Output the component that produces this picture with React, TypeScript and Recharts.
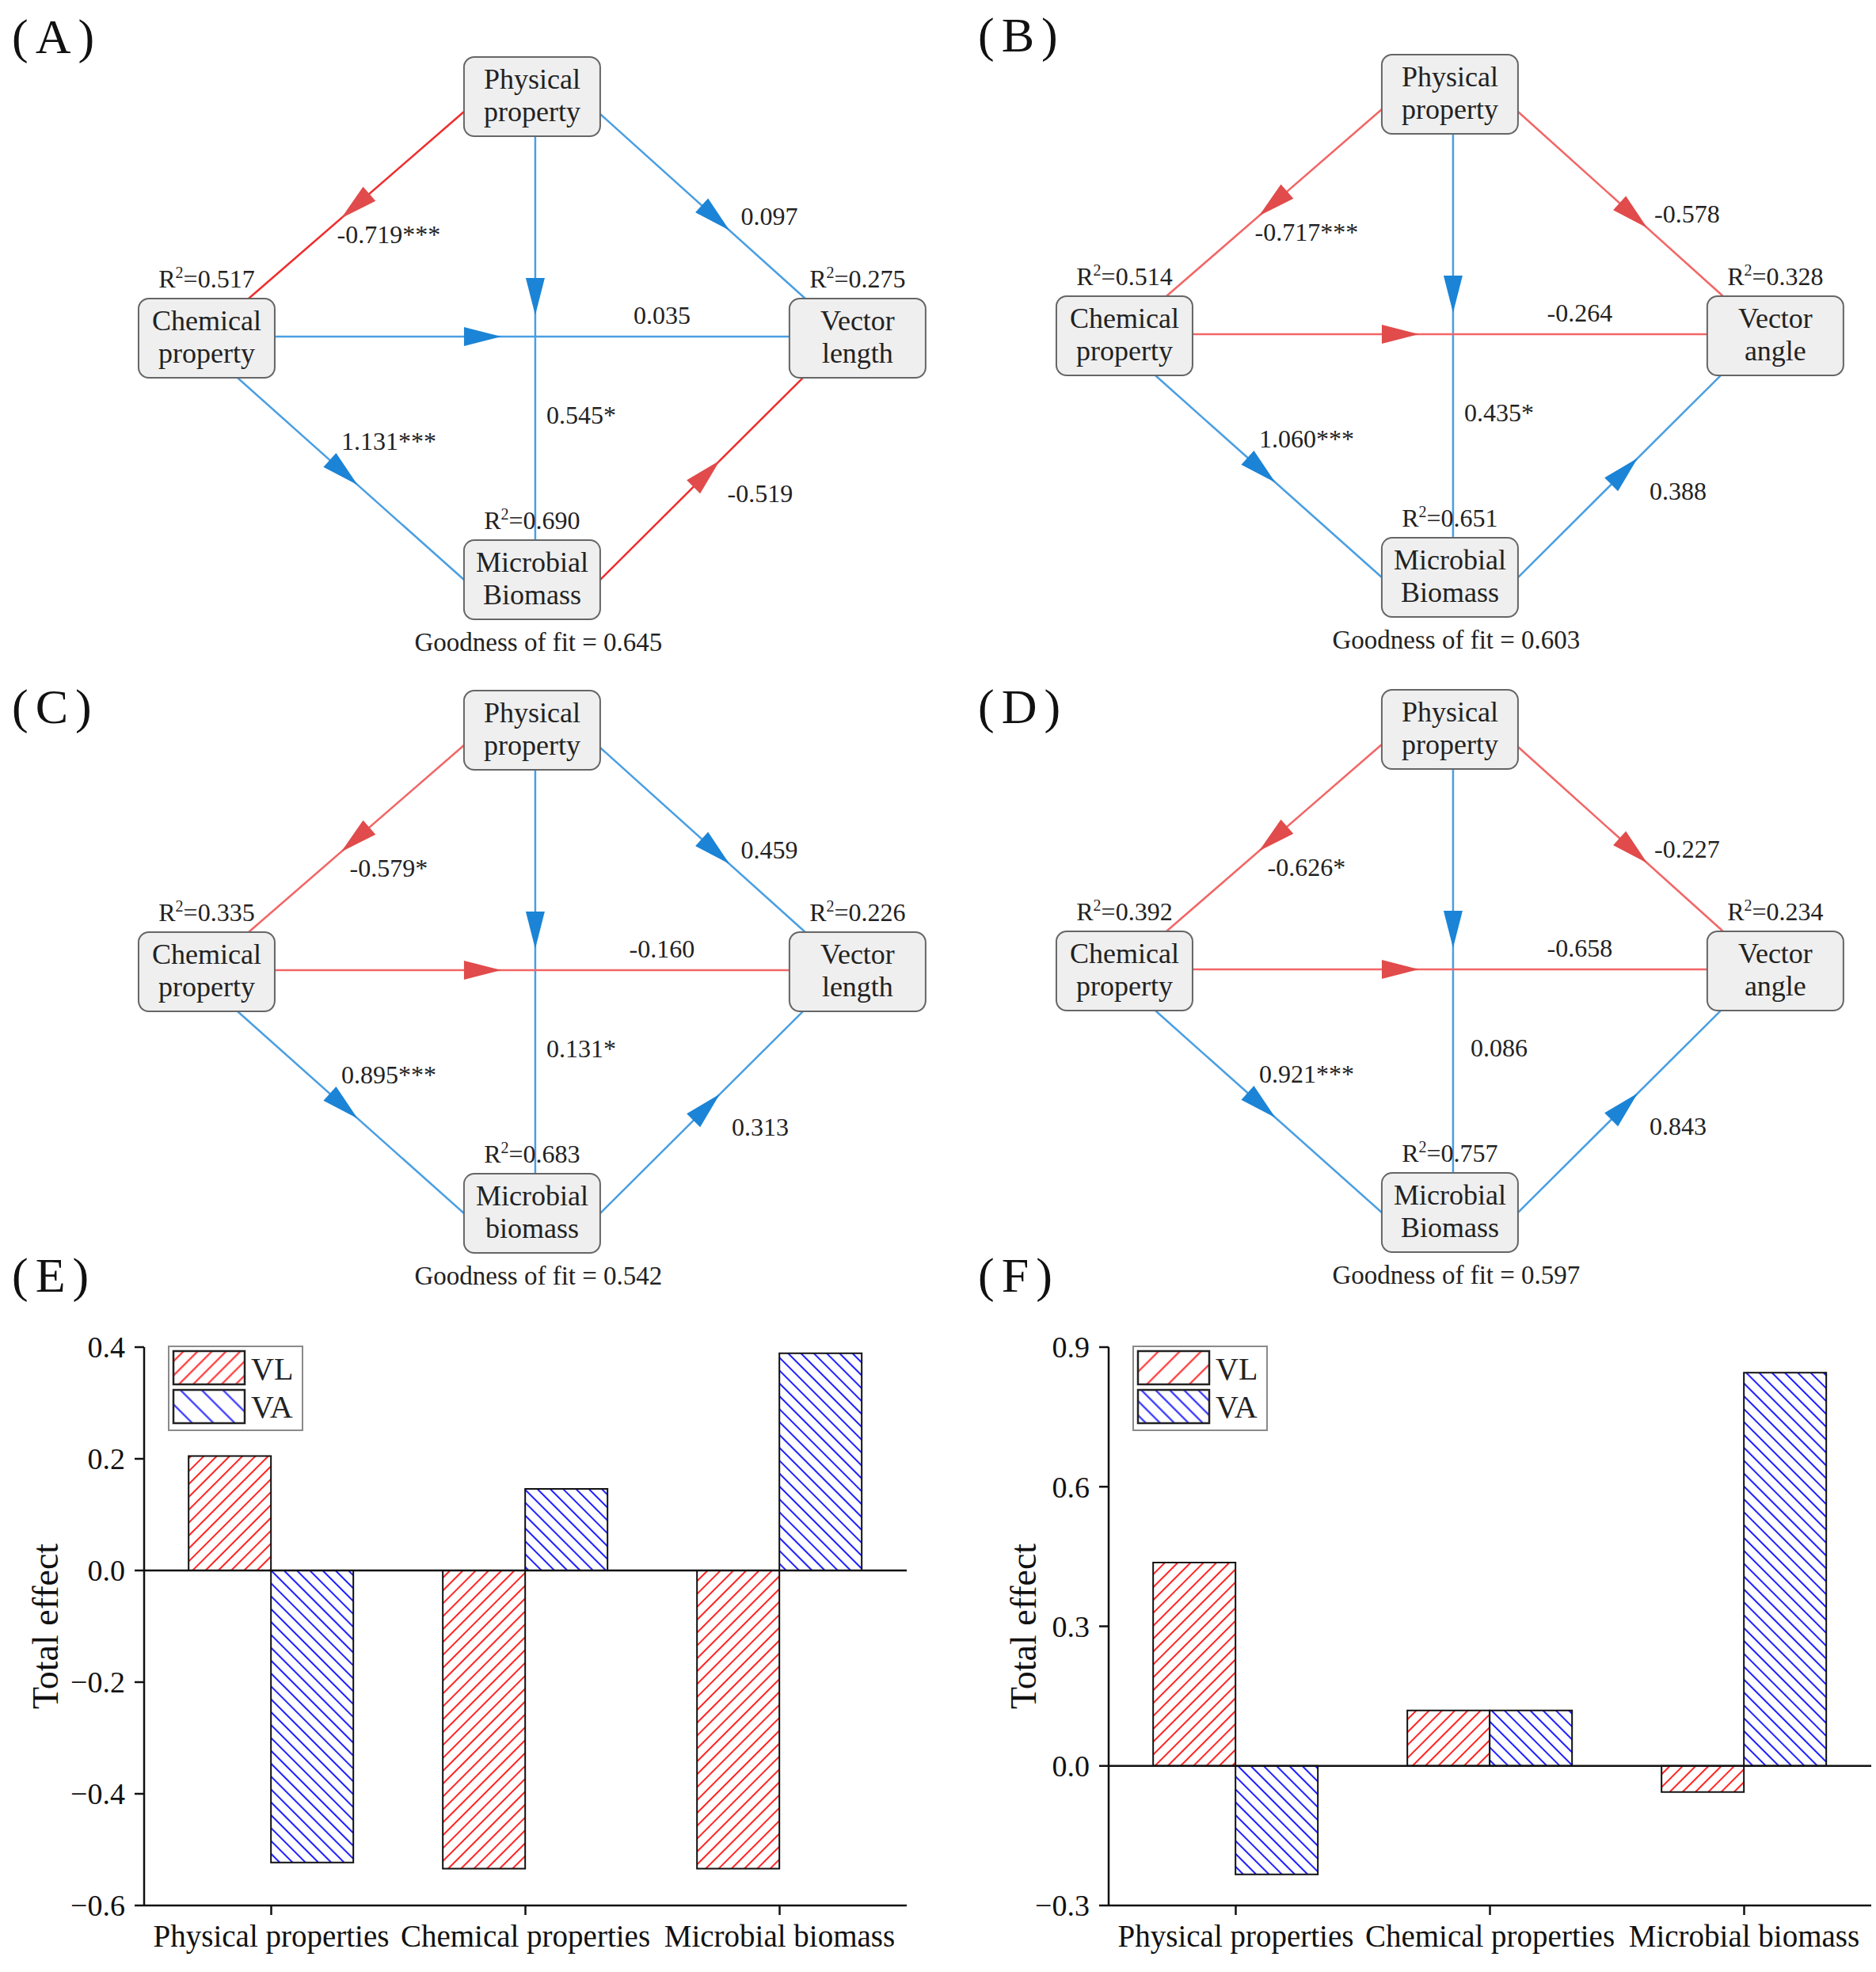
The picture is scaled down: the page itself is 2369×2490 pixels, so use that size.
import React from "react";
import {
  ScatterChart,
  Scatter,
  XAxis,
  YAxis,
  ReferenceLine,
  BarChart,
  Bar,
  Legend,
  Label,
} from "recharts";

const SERIF = '"Liberation Serif", "Times New Roman", serif';

// edges, always in this order
const EDGES = [
  ["phys", "chem"],
  ["phys", "vec"],
  ["phys", "micro"],
  ["chem", "vec"],
  ["chem", "micro"],
  ["micro", "vec"],
];

// (A) vector length
const A_COEF = [-0.719, 0.097, 0.545, 0.035, 1.131, -0.519];
const A_SIG = ["***", "", "*", "", "***", ""];
const A_R2 = [0.517, 0.275, 0.69]; // chem, vec, micro
const A_GOF = 0.645;

// (B) vector angle
const B_COEF = [-0.717, -0.578, 0.435, -0.264, 1.06, 0.388];
const B_SIG = ["***", "", "*", "", "***", ""];
const B_R2 = [0.514, 0.328, 0.651];
const B_GOF = 0.603;

// (C) vector length
const C_COEF = [-0.579, 0.459, 0.131, -0.16, 0.895, 0.313];
const C_SIG = ["*", "", "*", "", "***", ""];
const C_R2 = [0.335, 0.226, 0.683];
const C_GOF = 0.542;

// (D) vector angle
const D_COEF = [-0.626, -0.227, 0.086, -0.658, 0.921, 0.843];
const D_SIG = ["*", "", "", "", "***", ""];
const D_R2 = [0.392, 0.234, 0.757];
const D_GOF = 0.597;

// total effects (E, F)
const EFFECT_CATS = ["Physical properties", "Chemical properties", "Microbial biomass"];
const E_VL = [0.205, -0.534, -0.534];
const E_VA = [-0.523, 0.146, 0.389];
const F_VL = [0.437, 0.119, -0.056];
const F_VA = [-0.233, 0.119, 0.845];
const E_TICKS = [-0.6, -0.4, -0.2, 0, 0.2, 0.4];
const F_TICKS = [-0.3, 0, 0.3, 0.6, 0.9];

// diamond layout of the nodes
const GRID: Record<string, { x: number; y: number }> = {
  phys: { x: 0, y: 1 },
  chem: { x: -1, y: 0 },
  vec: { x: 1, y: 0 },
  micro: { x: 0, y: -1 },
};

// pixel offsets from node centres, arrow tip fraction, label offset from midpoint
const EDGE_GEOM = [
  { from: [-86, 19], to: [53, -50], tip: 0.57, lab: [41, 37] },
  { from: [86, 22], to: [-66, -50], tip: 0.63, lab: [84, 12] },
  { from: [4, 50], to: [4, -50], tip: 0.443, lab: [58, 97] },
  { from: [86, -2], to: [-86, -2], tip: 0.44, lab: [164, -27] },
  { from: [39, 50], to: [-86, 0], tip: 0.53, lab: [48, -48] },
  { from: [86, 0], to: [-69, 50], tip: 0.59, lab: [74, 18] },
];

const BLUE_LINE = "#4a9fe2";
const BLUE_HEAD = "#1b84d6";
const RED_HEAD = "#e14b4b";

const fmt = (v: number) => v.toFixed(3);

function edgeShape(i: number, coef: number, sig: string, redLine: string) {
  return (p: any) => {
    const g = EDGE_GEOM[i];
    const x1 = p.x1 + g.from[0];
    const y1 = p.y1 + g.from[1];
    const x2 = p.x2 + g.to[0];
    const y2 = p.y2 + g.to[1];
    const len = Math.hypot(x2 - x1, y2 - y1);
    const ux = (x2 - x1) / len;
    const uy = (y2 - y1) / len;
    const tx = x1 + (x2 - x1) * g.tip;
    const ty = y1 + (y2 - y1) * g.tip;
    const bx = tx - ux * 47;
    const by = ty - uy * 47;
    const nx = -uy * 12;
    const ny = ux * 12;
    const neg = coef < 0;
    const mx = (x1 + x2) / 2 + g.lab[0];
    const my = (y1 + y2) / 2 + g.lab[1];
    return (
      <g>
        <line x1={x1} y1={y1} x2={x2} y2={y2} stroke={neg ? redLine : BLUE_LINE} strokeWidth={2.5} />
        <polygon
          points={`${tx},${ty} ${bx + nx},${by + ny} ${bx - nx},${by - ny}`}
          fill={neg ? RED_HEAD : BLUE_HEAD}
        />
        <text x={mx} y={my} dy="0.35em" textAnchor="middle" fontSize={32} fontFamily={SERIF} fill="#222">
          {fmt(coef) + sig}
        </text>
      </g>
    );
  };
}

const nodeShape = (p: any) => {
  const { cx, cy, payload } = p;
  return (
    <g>
      <rect x={cx - 86} y={cy - 50} width={172} height={100} rx={13} fill="#efefef" stroke="#666" strokeWidth={2} />
      <text x={cx} y={cy - 10} textAnchor="middle" fontSize={36} fontFamily={SERIF} fill="#222">
        {payload.lines[0]}
      </text>
      <text x={cx} y={cy + 31} textAnchor="middle" fontSize={36} fontFamily={SERIF} fill="#222">
        {payload.lines[1]}
      </text>
      {payload.r2 != null && (
        <text x={cx} y={cy - 64} textAnchor="middle" fontSize={32} fontFamily={SERIF} fill="#222">
          R
          <tspan dy={-12} fontSize={20}>2</tspan>
          <tspan dy={12}>{"=" + fmt(payload.r2)}</tspan>
        </text>
      )}
      {payload.gof != null && (
        <text x={cx + 8} y={cy + 90} textAnchor="middle" fontSize={33} fontFamily={SERIF} fill="#222">
          {"Goodness of fit = " + fmt(payload.gof)}
        </text>
      )}
    </g>
  );
};

type PathProps = {
  coef: number[];
  sig: string[];
  r2: number[];
  gof: number;
  vecName: string[];
  microName: string[];
  redLine: string;
  left: number;
  top: number;
};

function PathDiagram({ coef, sig, r2, gof, vecName, microName, redLine, left, top }: PathProps) {
  const nodes = [
    { ...GRID.phys, lines: ["Physical", "property"], r2: null, gof: null },
    { ...GRID.chem, lines: ["Chemical", "property"], r2: r2[0], gof: null },
    { ...GRID.vec, lines: vecName, r2: r2[1], gof: null },
    { ...GRID.micro, lines: microName, r2: r2[2], gof },
  ];
  return (
    <div style={{ position: "absolute", left, top }}>
      <ScatterChart width={1200} height={840} margin={{ top: 0, right: 0, bottom: 0, left: 0 }}>
        <XAxis type="number" dataKey="x" hide domain={[-1.635, 1.285]} allowDataOverflow />
        <YAxis type="number" dataKey="y" hide domain={[-1.354, 1.4]} allowDataOverflow />
        {EDGES.map(([a, b], i) => (
          <ReferenceLine
            key={i}
            segment={[
              { x: GRID[a].x, y: GRID[a].y },
              { x: GRID[b].x, y: GRID[b].y },
            ]}
            ifOverflow="visible"
            shape={edgeShape(i, coef[i], sig[i], redLine)}
          />
        ))}
        <Scatter data={nodes} shape={nodeShape} isAnimationActive={false} />
      </ScatterChart>
    </div>
  );
}

const tickFmt = (v: number) => (v < 0 ? "\u2212" : "") + Math.abs(v).toFixed(1);

function Swatch({ id, color, period, angle }: { id: string; color: string; period: number; angle: number }) {
  return (
    <pattern id={id} width={period} height={period} patternUnits="userSpaceOnUse" patternTransform={`rotate(${angle})`}>
      <rect width={period} height={period} fill="#fff" />
      <line x1={period / 2} y1={0} x2={period / 2} y2={period} stroke={color} strokeWidth={2} />
    </pattern>
  );
}

function legendContent(tag: string, redP: number, blueP: number) {
  return () => (
    <svg width={172} height={109} style={{ display: "block" }}>
      <defs>
        <Swatch id={`lgVL${tag}`} color="#ff2222" period={redP} angle={45} />
        <Swatch id={`lgVA${tag}`} color="#1d1dff" period={blueP} angle={-45} />
      </defs>
      <rect x={1} y={1} width={169} height={106} fill="#fff" stroke="#8a8a8a" strokeWidth={2} />
      <rect x={7} y={7} width={90} height={42} fill={`url(#lgVL${tag})`} stroke="#222" strokeWidth={2.5} />
      <rect x={7} y={56} width={90} height={42} fill={`url(#lgVA${tag})`} stroke="#222" strokeWidth={2.5} />
      <text x={105} y={43} fontSize={40} fontFamily={SERIF} fill="#222">VL</text>
      <text x={105} y={91} fontSize={40} fontFamily={SERIF} fill="#222">VA</text>
    </svg>
  );
}

type EffectProps = {
  vl: number[];
  va: number[];
  ticks: number[];
  left: number;
  width: number;
  labelX: number;
  tag: string;
  redP: number;
  blueP: number;
};

function EffectChart({ vl, va, ticks, left, width, labelX, tag, redP, blueP }: EffectProps) {
  const data = EFFECT_CATS.map((cat, i) => ({ cat, VL: vl[i], VA: va[i] }));
  const axisStyle = { stroke: "#111", strokeWidth: 2.5 };
  return (
    <div style={{ position: "absolute", left, top: 1600 }}>
      <BarChart
        width={width}
        height={890}
        data={data}
        margin={{ top: 101, right: width - 1145, bottom: 24, left: 100 }}
        barGap={0}
        barCategoryGap="17.5%"
      >
        <XAxis
          dataKey="cat"
          height={60}
          interval={0}
          tickSize={12}
          tickMargin={12}
          axisLine={axisStyle}
          tickLine={axisStyle}
          tick={{ fontSize: 39, fill: "#111", fontFamily: SERIF }}
        />
        <YAxis
          type="number"
          width={82}
          domain={[ticks[0], ticks[ticks.length - 1]]}
          ticks={ticks}
          allowDataOverflow
          tickFormatter={tickFmt}
          tickSize={12}
          tickMargin={12}
          axisLine={axisStyle}
          tickLine={axisStyle}
          tick={{ fontSize: 38, fill: "#111", fontFamily: SERIF }}
        >
          <Label
            content={(p: any) => {
              const vb = p.viewBox || {};
              const cy = (vb.y || 0) + (vb.height || 0) / 2;
              return (
                <text
                  x={labelX}
                  y={cy}
                  transform={`rotate(-90 ${labelX} ${cy})`}
                  textAnchor="middle"
                  dy="0.35em"
                  fontSize={46}
                  fontFamily={SERIF}
                  fill="#111"
                >
                  Total effect
                </text>
              );
            }}
          />
        </YAxis>
        <ReferenceLine y={0} stroke="#111" strokeWidth={2.5} />
        <Legend
          layout="vertical"
          align="center"
          verticalAlign="middle"
          content={legendContent(tag, redP, blueP)}
          wrapperStyle={{ left: 212, top: 99, width: 172, height: 109 }}
        />
        <Bar dataKey="VL" fill="url(#hatchVL)" stroke="#111" strokeWidth={2} isAnimationActive={false} />
        <Bar dataKey="VA" fill="url(#hatchVA)" stroke="#111" strokeWidth={2} isAnimationActive={false} />
      </BarChart>
    </div>
  );
}

const TAGS: [string, number, number][] = [
  ["A", 15, 67],
  ["B", 1235, 65],
  ["C", 15, 913],
  ["D", 1235, 913],
  ["E", 15, 1631],
  ["F", 1235, 1631],
];

export default function App() {
  return (
    <div style={{ position: "absolute", left: 0, top: 0, width: 2369, height: 2490, background: "#fff", overflow: "hidden" }}>
      <svg width={0} height={0} style={{ position: "absolute" }}>
        <defs>
          <Swatch id="hatchVL" color="#ff2222" period={11.5} angle={45} />
          <Swatch id="hatchVA" color="#1d1dff" period={11.5} angle={-45} />
        </defs>
      </svg>
      <PathDiagram coef={A_COEF} sig={A_SIG} r2={A_R2} gof={A_GOF} vecName={["Vector", "length"]}
        microName={["Microbial", "Biomass"]} redLine="#ee2e2e" left={0} top={0} />
      <PathDiagram coef={B_COEF} sig={B_SIG} r2={B_R2} gof={B_GOF} vecName={["Vector", "angle"]}
        microName={["Microbial", "Biomass"]} redLine="#f26666" left={1159} top={-3} />
      <PathDiagram coef={C_COEF} sig={C_SIG} r2={C_R2} gof={C_GOF} vecName={["Vector", "length"]}
        microName={["Microbial", "biomass"]} redLine="#f26666" left={0} top={800} />
      <PathDiagram coef={D_COEF} sig={D_SIG} r2={D_R2} gof={D_GOF} vecName={["Vector", "angle"]}
        microName={["Microbial", "Biomass"]} redLine="#f26666" left={1159} top={799} />
      <EffectChart vl={E_VL} va={E_VA} ticks={E_TICKS} left={0} width={1180} labelX={57} tag="E" redP={12.7} blueP={19} />
      <EffectChart vl={F_VL} va={F_VA} ticks={F_TICKS} left={1218} width={1151} labelX={74} tag="F" redP={19} blueP={12.7} />
      <svg width={2369} height={2490} style={{ position: "absolute", left: 0, top: 0, pointerEvents: "none" }}>
        {TAGS.map(([t, x, y]) => (
          <text key={t} x={x} y={y} fontSize={62} fontFamily={SERIF} letterSpacing={9} fill="#111">
            {`(${t})`}
          </text>
        ))}
      </svg>
    </div>
  );
}
